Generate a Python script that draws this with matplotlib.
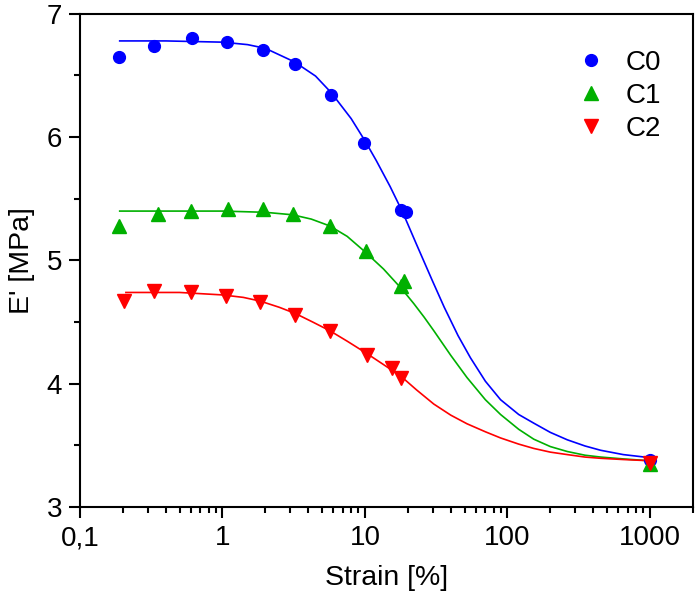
import matplotlib
matplotlib.use("Agg")
import matplotlib.pyplot as plt
from matplotlib.ticker import LogLocator, NullFormatter, MultipleLocator

plt.rcParams['font.family'] = ['Liberation Sans', 'DejaVu Sans']

# measured points
c0_strain = [0.189, 0.333, 0.61, 1.07, 1.92, 3.24, 5.78, 9.9, 18.0, 19.3, 1000]
c0_mod = [6.65, 6.74, 6.80, 6.77, 6.71, 6.59, 6.34, 5.95, 5.41, 5.39, 3.38]
c1_strain = [0.189, 0.355, 0.60, 1.10, 1.92, 3.12, 5.65, 10.1, 17.8, 18.8, 1000]
c1_mod = [5.28, 5.38, 5.40, 5.42, 5.42, 5.38, 5.28, 5.08, 4.79, 4.83, 3.35]
c2_strain = [0.204, 0.331, 0.598, 1.06, 1.84, 3.24, 5.66, 10.3, 15.5, 17.9, 1000]
c2_mod = [4.67, 4.75, 4.74, 4.71, 4.66, 4.56, 4.43, 4.23, 4.13, 4.05, 3.36]

# fitted curves
c0_fit_x = [0.19, 0.4, 1, 1.5, 2, 3.2, 4.5, 5.8, 8, 10, 12, 15, 18.4, 23, 29.6, 36, 45,
            55, 70, 89.5, 120, 153, 200, 263, 350, 451, 650, 1000]
c0_fit_y = [6.78, 6.78, 6.77, 6.75, 6.72, 6.61, 6.495, 6.36, 6.15, 5.97, 5.81, 5.60, 5.39,
            5.13, 4.84, 4.62, 4.39, 4.21, 4.02, 3.87, 3.75, 3.68, 3.605, 3.545, 3.495, 3.46,
            3.425, 3.40]
c1_fit_x = [0.19, 0.5, 1, 2, 3.1, 4.2, 5.65, 7.5, 10, 13.5, 18.4, 22, 26, 30.4, 40, 52,
            70, 89.5, 120, 153, 200, 263, 350, 451, 650, 1000]
c1_fit_y = [5.40, 5.40, 5.40, 5.39, 5.37, 5.335, 5.28, 5.195, 5.07, 4.93, 4.76, 4.65, 4.54,
            4.43, 4.23, 4.05, 3.87, 3.75, 3.63, 3.55, 3.49, 3.45, 3.42, 3.405, 3.39, 3.375]
c2_fit_x = [0.21, 0.5, 1, 1.4, 1.84, 2.5, 3.24, 4.3, 5.66, 7.5, 10.3, 13.5, 17.9, 23,
            30.4, 40, 52, 70, 89.5, 120, 153, 200, 263, 350, 451, 650, 1000]
c2_fit_y = [4.74, 4.74, 4.72, 4.70, 4.67, 4.62, 4.57, 4.50, 4.43, 4.345, 4.245, 4.155,
            4.06, 3.95, 3.835, 3.745, 3.675, 3.61, 3.56, 3.51, 3.475, 3.445, 3.425, 3.405,
            3.395, 3.385, 3.375]

blue = '#0000ff'
green = '#00b000'
red = '#ff0000'

fig = plt.figure(figsize=(6.98, 6.0), dpi=100)
ax = fig.add_axes([0.1146, 0.155, 0.878, 0.822])

ax.plot(c0_fit_x, c0_fit_y, color=blue, lw=1.2, zorder=2)
ax.plot(c1_fit_x, c1_fit_y, color=green, lw=1.2, zorder=2)
ax.plot(c2_fit_x, c2_fit_y, color=red, lw=1.2, zorder=2)

ax.plot(c0_strain, c0_mod, 'o', color=blue, ms=8.5, mec=blue, label='C0', zorder=3)
ax.plot(c1_strain, c1_mod, '^', color=green, ms=9.5, mec=green, label='C1', zorder=3)
ax.plot(c2_strain, c2_mod, 'v', color=red, ms=9.5, mec=red, label='C2', zorder=3)

ax.set_xscale('log')
ax.set_xlim(0.1, 2000)
ax.set_ylim(3, 7)
ax.set_xticks([0.1, 1, 10, 100, 1000])
ax.set_xticklabels(['0,1', '1', '10', '100', '1000'])
ax.xaxis.set_minor_locator(LogLocator(base=10, subs=range(2, 10), numticks=20))
ax.xaxis.set_minor_formatter(NullFormatter())
ax.yaxis.set_major_locator(MultipleLocator(1))
ax.yaxis.set_minor_locator(MultipleLocator(0.5))

for s in ax.spines.values():
    s.set_linewidth(1.5)
ax.tick_params(which='both', direction='out', top=False, right=False, width=1.5, labelsize=20)
ax.tick_params(which='major', length=8, pad=5)
ax.tick_params(which='minor', length=4.5)

ax.set_xlabel('Strain [%]', fontsize=20.5, labelpad=10)
ax.set_ylabel("E' [MPa]", fontsize=20.5, labelpad=8)

ax.legend(loc='upper left', frameon=False, fontsize=20, handlelength=1.0, handletextpad=0.75,
          labelspacing=0.25, borderpad=0.4, bbox_to_anchor=(0.77, 0.978))

fig.savefig('out.png', dpi=100)
